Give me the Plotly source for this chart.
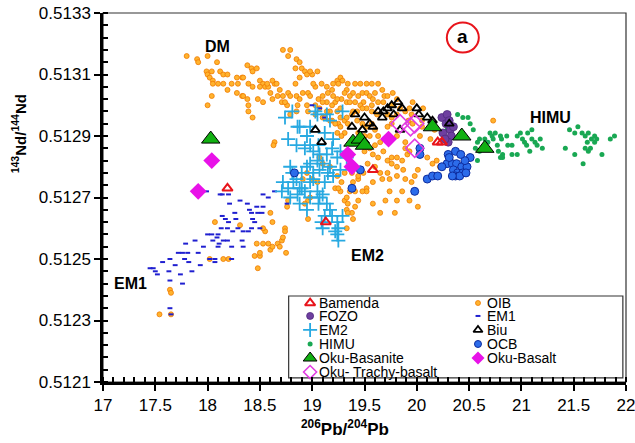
import plotly.graph_objects as go

# 206Pb/204Pb vs 143Nd/144Nd values for each reservoir / sample group
oib_pts = [
    (17.80, 0.51316), (17.90, 0.51315), (17.91, 0.51314), (18.00, 0.51316), (18.09, 0.51314),
    (17.99, 0.51311), (18.00, 0.51310), (18.04, 0.51311), (18.02, 0.51309), (18.05, 0.51308),
    (18.05, 0.51307), (18.04, 0.51303), (18.12, 0.51311), (18.15, 0.51310), (18.19, 0.51310),
    (18.10, 0.51307), (18.15, 0.51307), (18.19, 0.51305), (18.23, 0.51307), (18.28, 0.51309),
    (18.33, 0.51309), (18.29, 0.51307), (18.28, 0.51304), (18.33, 0.51303), (18.38, 0.51302),
    (18.39, 0.51307), (18.38, 0.51313), (18.42, 0.51312), (18.43, 0.51311), (18.47, 0.51312),
    (18.50, 0.51308), (18.53, 0.51307), (18.55, 0.51306), (18.58, 0.51306), (18.50, 0.51306),
    (18.48, 0.51302), (18.53, 0.51301), (18.60, 0.51304), (18.64, 0.51307), (18.62, 0.51302),
    (18.39, 0.51298), (18.43, 0.51296), (18.00, 0.51300), (18.69, 0.51305), (18.72, 0.51303),
    (18.71, 0.51301), (18.76, 0.51300), (18.77, 0.51304), (18.79, 0.51318), (18.72, 0.51318),
    (18.77, 0.51316), (18.85, 0.51315), (18.84, 0.51312), (18.88, 0.51314), (18.90, 0.51312),
    (18.93, 0.51311), (18.95, 0.51310), (18.88, 0.51309), (18.84, 0.51307), (18.85, 0.51303),
    (18.88, 0.51302), (18.91, 0.51304), (18.96, 0.51304), (18.98, 0.51303), (19.03, 0.51306),
    (19.09, 0.51307), (19.14, 0.51306), (19.19, 0.51305), (19.24, 0.51308), (19.05, 0.51311),
    (19.00, 0.51310), (19.03, 0.51300), (19.06, 0.51302), (19.10, 0.51303), (19.14, 0.51301),
    (19.17, 0.51298), (19.22, 0.51301), (19.24, 0.51298), (19.27, 0.51299), (18.79, 0.51297),
    (18.85, 0.51298), (18.86, 0.51300), (18.95, 0.51300), (18.64, 0.51288), (18.98, 0.51311),
    (19.01, 0.51307), (19.20, 0.51303), (19.27, 0.51309), (19.29, 0.51308), (19.25, 0.51307),
    (19.33, 0.51305), (19.41, 0.51307), (19.39, 0.51304), (19.44, 0.51303), (19.36, 0.51303),
    (19.48, 0.51304), (19.52, 0.51304), (19.49, 0.51301), (19.55, 0.51303), (19.58, 0.51302),
    (19.60, 0.51304), (19.57, 0.51300), (19.52, 0.51299), (19.46, 0.51300), (19.33, 0.51301),
    (19.39, 0.51298), (19.14, 0.51298), (19.10, 0.51301), (19.10, 0.51296), (19.19, 0.51295),
    (19.27, 0.51296), (19.31, 0.51295), (19.43, 0.51295), (19.34, 0.51294), (19.63, 0.51301),
    (19.68, 0.51301), (19.72, 0.51297), (19.76, 0.51296), (19.81, 0.51297), (19.92, 0.51295),
    (19.95, 0.51297), (19.96, 0.51294), (20.05, 0.51293), (18.43, 0.51306), (18.57, 0.51307),
    (18.62, 0.51308), (18.66, 0.51307), (18.67, 0.51303), (18.79, 0.51303), (18.96, 0.51298),
    (19.03, 0.51297), (19.07, 0.51299), (19.25, 0.51294), (18.34, 0.51303), (18.34, 0.51309),
    (19.15, 0.51304), (19.20, 0.51307), (19.31, 0.51304), (19.28, 0.51302), (19.24, 0.51302),
    (19.19, 0.51300), (19.36, 0.51301), (19.41, 0.51301), (19.69, 0.51303), (19.62, 0.51297),
    (19.57, 0.51298), (19.48, 0.51299), (19.43, 0.51298), (19.38, 0.51297), (19.33, 0.51296),
    (19.22, 0.51294), (19.17, 0.51295), (19.12, 0.51296), (19.27, 0.51293), (19.31, 0.51291),
    (19.24, 0.51291), (19.28, 0.51290), (19.48, 0.51294), (19.52, 0.51293), (19.57, 0.51294),
    (19.60, 0.51292), (19.63, 0.51290), (19.55, 0.51290), (19.50, 0.51290), (19.44, 0.51291),
    (19.65, 0.51288), (19.60, 0.51287), (19.55, 0.51286), (19.50, 0.51285), (19.58, 0.51284),
    (19.63, 0.51283), (19.68, 0.51285), (19.72, 0.51282), (19.76, 0.51283), (19.81, 0.51283),
    (19.86, 0.51282), (19.91, 0.51284), (19.76, 0.51281), (19.81, 0.51280), (19.87, 0.51279),
    (19.72, 0.51278), (19.65, 0.51278), (19.60, 0.51280), (19.53, 0.51281), (19.49, 0.51278),
    (19.67, 0.51276), (19.58, 0.51275), (19.44, 0.51276), (19.52, 0.51273), (19.74, 0.51276),
    (19.81, 0.51277), (19.89, 0.51276), (19.95, 0.51275), (20.01, 0.51279), (19.89, 0.51286),
    (19.93, 0.51285), (19.81, 0.51290), (19.89, 0.51288), (19.72, 0.51293), (19.76, 0.51294),
    (19.89, 0.51298), (20.05, 0.51295), (20.03, 0.51290), (20.13, 0.51289), (20.17, 0.51292),
    (20.06, 0.51299), (19.96, 0.51301), (19.93, 0.51299), (19.84, 0.51299), (19.76, 0.51300),
    (19.81, 0.51302), (19.67, 0.51305), (19.72, 0.51303), (19.77, 0.51304), (19.63, 0.51307),
    (19.57, 0.51307), (19.52, 0.51307), (19.46, 0.51307), (19.34, 0.51307), (20.19, 0.51282),
    (20.10, 0.51283), (20.15, 0.51281), (20.22, 0.51280), (18.63, 0.51287), (18.95, 0.51278),
    (18.96, 0.51269), (18.76, 0.51267), (18.96, 0.51263), (18.60, 0.51265), (18.62, 0.51262),
    (18.55, 0.51259), (18.47, 0.51255), (18.53, 0.51255), (18.58, 0.51255), (18.45, 0.51251),
    (18.50, 0.51251), (18.67, 0.51255), (18.71, 0.51256), (18.69, 0.51254), (18.72, 0.51257),
    (18.74, 0.51260), (18.74, 0.51259), (18.75, 0.51252), (18.60, 0.51253), (18.15, 0.51250),
    (18.20, 0.51250), (18.02, 0.51250), (18.48, 0.51247), (19.07, 0.51283), (19.10, 0.51281),
    (19.17, 0.51280), (19.22, 0.51273), (19.27, 0.51272), (19.31, 0.51269), (19.34, 0.51268),
    (19.38, 0.51265), (19.39, 0.51263), (19.33, 0.51260), (19.28, 0.51275), (19.31, 0.51278),
    (19.24, 0.51277), (18.39, 0.51300), (18.74, 0.51301), (19.00, 0.51276), (19.05, 0.51275),
    (18.91, 0.51276), (18.98, 0.51270), (18.77, 0.51269), (18.53, 0.51260), (19.33, 0.51266),
    (19.25, 0.51273), (19.41, 0.51267), (19.44, 0.51269), (19.36, 0.51272), (19.39, 0.51275),
    (19.44, 0.51277), (19.38, 0.51278), (18.07, 0.51262), (18.31, 0.51261), (18.62, 0.51254),
    (18.50, 0.51252), (17.64, 0.51240), (17.65, 0.51239), (17.54, 0.51232), (17.65, 0.51232),
    (18.93, 0.51268), (20.73, 0.51295), (19.98, 0.51277), (19.86, 0.51272), (19.74, 0.51272),
    (19.81, 0.51269), (19.70, 0.51269), (20.01, 0.51267), (19.93, 0.51269), (19.79, 0.51265),
    (19.65, 0.51265), (19.58, 0.51268), (19.52, 0.51272), (19.48, 0.51272), (19.41, 0.51272),
    (19.33, 0.51270), (19.34, 0.51265),
]

em1_pts = [
    (17.45, 0.51247), (17.48, 0.51247), (17.50, 0.51246), (17.52, 0.51245), (17.57, 0.51249),
    (17.64, 0.51250), (17.63, 0.51246), (17.64, 0.51243), (17.74, 0.51245), (17.72, 0.51252),
    (17.76, 0.51252), (17.79, 0.51255), (17.81, 0.51252), (17.78, 0.51250), (17.82, 0.51249),
    (17.76, 0.51242), (17.64, 0.51234), (17.65, 0.51232), (17.93, 0.51248), (17.91, 0.51252),
    (17.96, 0.51254), (18.00, 0.51258), (18.04, 0.51258), (18.05, 0.51256), (18.02, 0.51250),
    (18.07, 0.51250), (18.07, 0.51249), (18.10, 0.51258), (18.09, 0.51257), (18.11, 0.51255),
    (18.10, 0.51254), (18.14, 0.51264), (18.17, 0.51263), (18.20, 0.51262), (18.19, 0.51260),
    (18.13, 0.51260), (18.15, 0.51256), (18.19, 0.51256), (18.23, 0.51254), (18.23, 0.51250),
    (18.26, 0.51265), (18.27, 0.51263), (18.24, 0.51259), (18.29, 0.51260), (18.33, 0.51256),
    (18.34, 0.51254), (18.38, 0.51268), (18.40, 0.51266), (18.42, 0.51265), (18.43, 0.51263),
    (18.47, 0.51267), (18.48, 0.51265), (18.53, 0.51267), (18.53, 0.51271), (18.52, 0.51265),
    (18.50, 0.51260), (18.42, 0.51260), (18.39, 0.51259), (18.34, 0.51259), (18.45, 0.51262),
    (18.20, 0.51271), (18.12, 0.51271), (18.14, 0.51271), (17.99, 0.51272), (17.93, 0.51272),
    (18.64, 0.51272), (18.76, 0.51268), (19.00, 0.51300), (19.07, 0.51299), (19.12, 0.51296),
    (18.58, 0.51270), (18.31, 0.51269), (18.21, 0.51268), (17.88, 0.51256), (17.69, 0.51248),
    (17.85, 0.51246),
]

em2_pts = [
    (18.74, 0.51296), (18.81, 0.51298), (18.88, 0.51293), (18.77, 0.51289), (18.85, 0.51287),
    (18.95, 0.51290), (18.98, 0.51293), (19.05, 0.51297), (19.14, 0.51297), (19.29, 0.51298),
    (19.12, 0.51291), (18.98, 0.51287), (19.01, 0.51285), (19.07, 0.51284), (19.14, 0.51284),
    (19.19, 0.51286), (19.24, 0.51283), (19.27, 0.51285), (19.05, 0.51282), (19.10, 0.51281),
    (19.17, 0.51280), (19.20, 0.51277), (19.07, 0.51279), (19.01, 0.51278), (18.95, 0.51280),
    (18.90, 0.51278), (18.81, 0.51278), (18.72, 0.51275), (18.71, 0.51272), (18.77, 0.51273),
    (18.85, 0.51276), (18.90, 0.51273), (18.86, 0.51271), (18.93, 0.51272), (18.98, 0.51270),
    (19.05, 0.51272), (19.07, 0.51270), (19.10, 0.51271), (19.06, 0.51268), (19.14, 0.51268),
    (19.17, 0.51266), (19.19, 0.51264), (19.12, 0.51264), (19.09, 0.51262), (19.10, 0.51260),
    (19.24, 0.51262), (19.25, 0.51260), (19.22, 0.51259), (19.29, 0.51264), (18.88, 0.51268),
    (18.95, 0.51266), (18.79, 0.51270), (19.15, 0.51278), (19.01, 0.51276), (19.12, 0.51275),
    (19.27, 0.51279), (19.33, 0.51283), (18.98, 0.51281), (18.86, 0.51293), (18.93, 0.51286),
    (18.79, 0.51280), (18.82, 0.51275), (18.88, 0.51273), (18.98, 0.51275), (19.24, 0.51258),
    (19.25, 0.51256), (19.03, 0.51298), (19.20, 0.51289), (19.06, 0.51287), (19.17, 0.51295),
]

himu_pts = [
    (20.39, 0.51297), (20.44, 0.51296), (20.49, 0.51296), (20.51, 0.51294), (20.54, 0.51292),
    (20.60, 0.51289), (20.58, 0.51288), (20.56, 0.51286), (20.58, 0.51282), (20.65, 0.51289),
    (20.70, 0.51291), (20.73, 0.51289), (20.75, 0.51291), (20.80, 0.51290), (20.81, 0.51289),
    (20.77, 0.51287), (20.78, 0.51285), (20.82, 0.51284), (20.82, 0.51283), (20.86, 0.51290),
    (20.87, 0.51287), (20.91, 0.51287), (20.96, 0.51284), (20.96, 0.51290), (20.99, 0.51291),
    (21.01, 0.51289), (21.03, 0.51288), (21.06, 0.51291), (21.10, 0.51292), (21.10, 0.51289),
    (21.05, 0.51287), (21.08, 0.51285), (21.15, 0.51287), (21.18, 0.51289), (21.20, 0.51286),
    (21.13, 0.51288), (21.42, 0.51286), (21.46, 0.51292), (21.51, 0.51291), (21.54, 0.51293),
    (21.58, 0.51291), (21.61, 0.51290), (21.64, 0.51291), (21.67, 0.51289), (21.70, 0.51290),
    (21.70, 0.51288), (21.63, 0.51288), (21.61, 0.51286), (21.64, 0.51285), (21.66, 0.51286),
    (21.51, 0.51284), (21.59, 0.51281), (21.77, 0.51284), (21.72, 0.51289), (21.85, 0.51289),
    (21.89, 0.51290), (20.91, 0.51284), (20.80, 0.51283), (20.72, 0.51290), (20.68, 0.51288),
    (20.60, 0.51285), (20.29, 0.51292), (20.34, 0.51293),
]

fozo_pts = [
    (20.24, 0.51296), (20.28, 0.51294), (20.32, 0.51292), (20.25, 0.51291), (20.33, 0.51290),
    (20.30, 0.51288), (20.27, 0.51289), (20.35, 0.51293), (20.29, 0.51297), (20.31, 0.51295),
]

ocb_pts = [
    (18.83, 0.51278), (19.38, 0.51273), (19.46, 0.51279), (19.98, 0.51272), (20.03, 0.51286),
    (20.03, 0.51284), (20.10, 0.51276), (20.15, 0.51277), (20.20, 0.51277), (20.29, 0.51281),
    (20.30, 0.51284), (20.34, 0.51281), (20.37, 0.51285), (20.38, 0.51281), (20.43, 0.51280),
    (20.48, 0.51280), (20.51, 0.51283), (20.35, 0.51279), (20.39, 0.51278), (20.44, 0.51278),
    (20.37, 0.51277), (20.41, 0.51277), (20.34, 0.51277), (20.46, 0.51282), (20.24, 0.51280),
    (20.31, 0.51283), (20.42, 0.51284), (20.47, 0.51278),
]

biu_pts = [
    (19.03, 0.51292), (19.09, 0.51288), (19.38, 0.51293), (19.41, 0.51297), (19.50, 0.51296),
    (19.55, 0.51294), (19.63, 0.51298), (19.68, 0.51298), (19.72, 0.51299), (19.76, 0.51300),
    (19.82, 0.51301), (19.86, 0.51299), (20.00, 0.51299), (20.02, 0.51297), (20.10, 0.51296),
    (20.15, 0.51295), (19.67, 0.51296), (19.84, 0.51292), (20.31, 0.51294), (19.48, 0.51292),
    (19.78, 0.51297), (19.58, 0.51293),
]

bamenda_pts = [
    (18.19, 0.51273), (19.58, 0.51279), (20.20, 0.51288), (20.24, 0.51288), (19.13, 0.51262),
]

oku_basanite_pts = [
    (18.03, 0.51289), (19.39, 0.51288), (19.46, 0.51289), (19.50, 0.51287),
    (20.15, 0.51293), (20.43, 0.51290), (20.65, 0.51286),
]

oku_basalt_pts = [
    (18.04, 0.51282), (17.91, 0.51272), (19.73, 0.51289), (19.34, 0.51284), (19.38, 0.51280),
]

oku_trachy_pts = [
    (19.84, 0.51294), (19.94, 0.51293), (19.98, 0.51294), (19.98, 0.51286),
]

x_ticks = [17, 17.5, 18, 18.5, 19, 19.5, 20, 20.5, 21, 21.5, 22]
y_ticks = [0.5121, 0.5123, 0.5125, 0.5127, 0.5129, 0.5131, 0.5133]

FONT = "Liberation Sans, Arial, sans-serif"

# marker style for each group
styles = {
    "OIB": dict(symbol="circle", size=5, color="#FFB32E", line=dict(color="#F07A00", width=0.8)),
    "EM1": dict(symbol="line-ew", size=3.5, color="#1F1FD0", line=dict(color="#1F1FD0", width=2)),
    "EM2": dict(symbol="cross-thin", size=10, color="#27A9E1", line=dict(color="#27A9E1", width=1.8)),
    "HIMU": dict(symbol="circle", size=5, color="#19A853", line=dict(width=0)),
    "FOZO": dict(symbol="circle", size=8, color="#6E3FA0", line=dict(color="#4F2A7E", width=0.8)),
    "OCB": dict(symbol="circle", size=8, color="#2C6CEA", line=dict(color="#0E2C9E", width=1)),
    "Biu": dict(symbol="triangle-up-open", size=8, color="#000000", line=dict(color="#000000", width=1.8)),
    "Bamenda": dict(symbol="triangle-up-open", size=9, color="#E8141B", line=dict(color="#E8141B", width=2)),
    "Oku-Basanite": dict(symbol="triangle-up", size=16, color="#12B012", line=dict(color="#000000", width=1)),
    "Oku-Basalt": dict(symbol="diamond", size=13, color="#E812E8", line=dict(width=0)),
    "Oku- Trachy-basalt": dict(symbol="diamond-open", size=14, color="#E23DE2", line=dict(color="#E23DE2", width=1.6)),
}

series = [
    ("OIB", oib_pts), ("EM1", em1_pts), ("EM2", em2_pts), ("HIMU", himu_pts),
    ("FOZO", fozo_pts), ("OCB", ocb_pts), ("Biu", biu_pts), ("Bamenda", bamenda_pts),
    ("Oku-Basanite", oku_basanite_pts), ("Oku-Basalt", oku_basalt_pts),
    ("Oku- Trachy-basalt", oku_trachy_pts),
]

fig = go.Figure()
for name, pts in series:
    xs = [p[0] for p in pts]
    ys = [p[1] for p in pts]
    fig.add_trace(go.Scatter(x=xs, y=ys, mode="markers", name=name,
                             marker=styles[name], showlegend=False,
                             xaxis="x", yaxis="y"))

# legend box drawn on an overlay axis pair spanning the plot area (0..1)
legend_rows = [
    ("Bamenda", 0, 0), ("OIB", 1, 0),
    ("FOZO", 0, 1), ("EM1", 1, 1),
    ("EM2", 0, 2), ("Biu", 1, 2),
    ("HIMU", 0, 3), ("OCB", 1, 3),
    ("Oku-Basanite", 0, 4), ("Oku-Basalt", 1, 4),
    ("Oku- Trachy-basalt", 0, 5),
]
col_marker_x = [0.396, 0.717]
col_text_x = [0.410, 0.731]
row_y = [0.214, 0.179, 0.141, 0.103, 0.065, 0.027]
key_size = {"Bamenda": 9, "OIB": 5, "FOZO": 7, "EM1": 3.5, "EM2": 10, "Biu": 8,
            "HIMU": 5, "OCB": 7, "Oku-Basanite": 12, "Oku-Basalt": 10,
            "Oku- Trachy-basalt": 10}

annotations = []
for name, col, row in legend_rows:
    m = dict(styles[name])
    m["size"] = key_size[name]
    fig.add_trace(go.Scatter(x=[col_marker_x[col]], y=[row_y[row]], mode="markers",
                             marker=m, showlegend=False, hoverinfo="skip",
                             xaxis="x2", yaxis="y2"))
    annotations.append(dict(x=col_text_x[col], y=row_y[row], xref="paper", yref="paper",
                            text=name, showarrow=False, xanchor="left", yanchor="middle",
                            font=dict(family=FONT, size=14, color="#000000")))

# region labels
for txt, xv, yv in [("DM", 18.09, 0.51319), ("HIMU", 21.28, 0.51296),
                    ("EM2", 19.53, 0.51251), ("EM1", 17.26, 0.51242)]:
    annotations.append(dict(x=xv, y=yv, xref="x", yref="y", text=f"<b>{txt}</b>",
                            showarrow=False, font=dict(family=FONT, size=16, color="#000000")))

annotations.append(dict(x=20.44, y=0.51322, xref="x", yref="y", text="<b>a</b>",
                        showarrow=False, yshift=1,
                        font=dict(family=FONT, size=19, color="#000000")))

# axis titles
annotations.append(dict(x=0.463, y=-0.125, xref="paper", yref="paper",
                        text="<b><sup>206</sup>Pb/<sup>204</sup>Pb</b>", showarrow=False,
                        xanchor="center", yanchor="middle",
                        font=dict(family=FONT, size=17, color="#000000")))
annotations.append(dict(x=-0.162, y=0.672, xref="paper", yref="paper",
                        text="<b><sup>143</sup>Nd/<sup>144</sup>Nd</b>", showarrow=False,
                        textangle=-90, xanchor="center", yanchor="middle",
                        font=dict(family=FONT, size=15, color="#000000")))

shapes = [
    # thin frame on top/right
    dict(type="rect", xref="paper", yref="paper", x0=0, y0=0, x1=1, y1=1,
         line=dict(color="#333333", width=1.2), layer="below"),
    # legend box
    dict(type="rect", xref="paper", yref="paper", x0=0.355, y0=0.011, x1=0.994, y1=0.233,
         line=dict(color="#333333", width=1.2), fillcolor="white", layer="below"),
    # red circle around panel letter
    dict(type="circle", xref="x", yref="y", xsizemode="pixel", ysizemode="pixel",
         xanchor=20.44, yanchor=0.51322, x0=-16, x1=16, y0=-15, y1=15,
         line=dict(color="#E8141B", width=2)),
]

axis_common = dict(showgrid=False, zeroline=False, showline=True, linecolor="#000000",
                   linewidth=2.5, ticks="outside", ticklen=6, tickwidth=2,
                   tickcolor="#000000", ticklabeloverflow="allow", automargin=False,
                   tickfont=dict(family=FONT, size=17, color="#000000"))

fig.update_layout(
    width=635, height=443,
    margin=dict(l=103, r=9, t=13, b=61, autoexpand=False),
    paper_bgcolor="white", plot_bgcolor="white",
    xaxis=dict(range=[17, 22], tickvals=x_ticks, ticktext=[f"{v:g}" for v in x_ticks],
               minor=dict(dtick=0.1, tick0=17, ticks="inside", ticklen=5, tickwidth=1.5,
                          tickcolor="#000000", showgrid=False),
               **axis_common),
    yaxis=dict(range=[0.5121, 0.5133], tickvals=y_ticks,
               ticktext=[f"{v:.4f}" for v in y_ticks],
               minor=dict(dtick=0.00004, tick0=0.5121, ticks="inside", ticklen=5, tickwidth=1.5,
                          tickcolor="#000000", showgrid=False),
               **axis_common),
    xaxis2=dict(range=[0, 1], overlaying="x", visible=False, fixedrange=True),
    yaxis2=dict(range=[0, 1], overlaying="y", visible=False, fixedrange=True),
    annotations=annotations,
    shapes=shapes,
)

fig.write_html("out.html")
